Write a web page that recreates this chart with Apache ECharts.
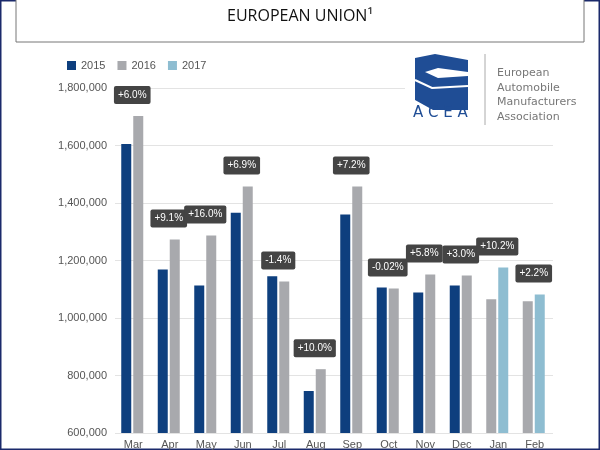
<!DOCTYPE html><html><head><meta charset="utf-8"><script src="https://cdn.jsdelivr.net/npm/echarts@6/dist/echarts.min.js"></script>
<style>html,body{margin:0;padding:0;background:#fff}#c{width:600px;height:450px}</style></head><body><div id="c"></div><script>
const months=['Mar','Apr','May','Jun','Jul','Aug','Sep','Oct','Nov','Dec','Jan','Feb'];
const v2015=[1605000,1169000,1113000,1366000,1145000,746000,1360000,1106000,1089000,1113000,null,null];
const v2016=[1703000,1273000,1287000,1457000,1127000,822000,1457000,1103000,1151000,1148000,1065000,1058000];
const v2017=[null,null,null,null,null,null,null,null,null,null,1176000,1082000];
const changes=['+6.0%','+9.1%','+16.0%','+6.9%','-1.4%','+10.0%','+7.2%','-0.02%','+5.8%','+3.0%','+10.2%','+2.2%'];
const C15='#0e3f7e',C16='#a8a9ad',C17='#8ebdd1';
const first=months.map((m,i)=>v2015[i]!=null?{value:v2015[i],itemStyle:{color:C15}}:{value:v2016[i],itemStyle:{color:C16}});
const second=months.map((m,i)=>v2017[i]!=null?{value:v2017[i],itemStyle:{color:C17}}:{value:v2016[i],itemStyle:{color:C16}});
const ch=echarts.init(document.getElementById('c'));
ch.setOption({animation:false,
graphic:[
{type:'rect',shape:{x:0,y:0,width:600,height:450},style:{fill:'none',stroke:'#1b2a6b',lineWidth:3}},
{type:'rect',shape:{x:16,y:-2,width:568,height:44},style:{fill:'#fff',stroke:'#777',lineWidth:1}},
{type:'text',left:'center',top:8,style:{text:'EUROPEAN UNION¹',font:'16px "Open Sans", sans-serif',fill:'#111'}},
{type:'rect',zlevel:1,shape:{x:405,y:50,width:185,height:80},style:{fill:'#fff'}},
{type:'polygon',zlevel:1,shape:{points:[[415,58],[435,54],[468,60],[468,72],[438,68],[425,72],[438,78],[468,76],[468,110],[433,110],[415,100]]},style:{fill:'#1f4d95'}},
{type:'polyline',zlevel:1,shape:{points:[[415,80],[432,88],[468,86]]},style:{stroke:'#fff',lineWidth:2}},
{type:'text',zlevel:1,x:413,y:106,style:{text:'A C E A',font:'15px "DejaVu Sans", sans-serif',fill:'#1f4d95'}},
{type:'line',zlevel:1,shape:{x1:485,y1:54,x2:485,y2:125},style:{stroke:'#aaa',lineWidth:1}},
{type:'text',zlevel:1,x:497,y:66,style:{text:'European\nAutomobile\nManufacturers\nAssociation',font:'11px "DejaVu Sans", sans-serif',fill:'#777',lineHeight:14.5}}
],
legend:{left:62,top:55,itemWidth:9,itemHeight:9,itemGap:12,icon:'rect',textStyle:{color:'#555',fontSize:11},data:['2015','2016','2017']},
grid:{left:115,right:47,top:88,bottom:16},
xAxis:{type:'category',data:months,axisLine:{show:false},axisTick:{show:false},axisLabel:{color:'#555',fontSize:11,margin:6}},
yAxis:{type:'value',min:600000,max:1800000,interval:200000,axisLabel:{color:'#555',fontSize:11,formatter:v=>v.toLocaleString('en-US')},splitLine:{lineStyle:{color:'#e3e3e3'}}},
series:[
{name:'2015',type:'bar',data:first,barWidth:10,barGap:'20%',itemStyle:{color:C15}},
{name:'2016',type:'bar',data:second,barWidth:10,itemStyle:{color:C16},
 label:{show:true,position:'top',distance:12,formatter:p=>changes[p.dataIndex],color:'#fff',fontSize:10,backgroundColor:'#444',padding:[4,4],borderRadius:2,offset:[-6,0]}},
{name:'2017',type:'bar',data:[],itemStyle:{color:C17}}
]});
</script></body></html>
